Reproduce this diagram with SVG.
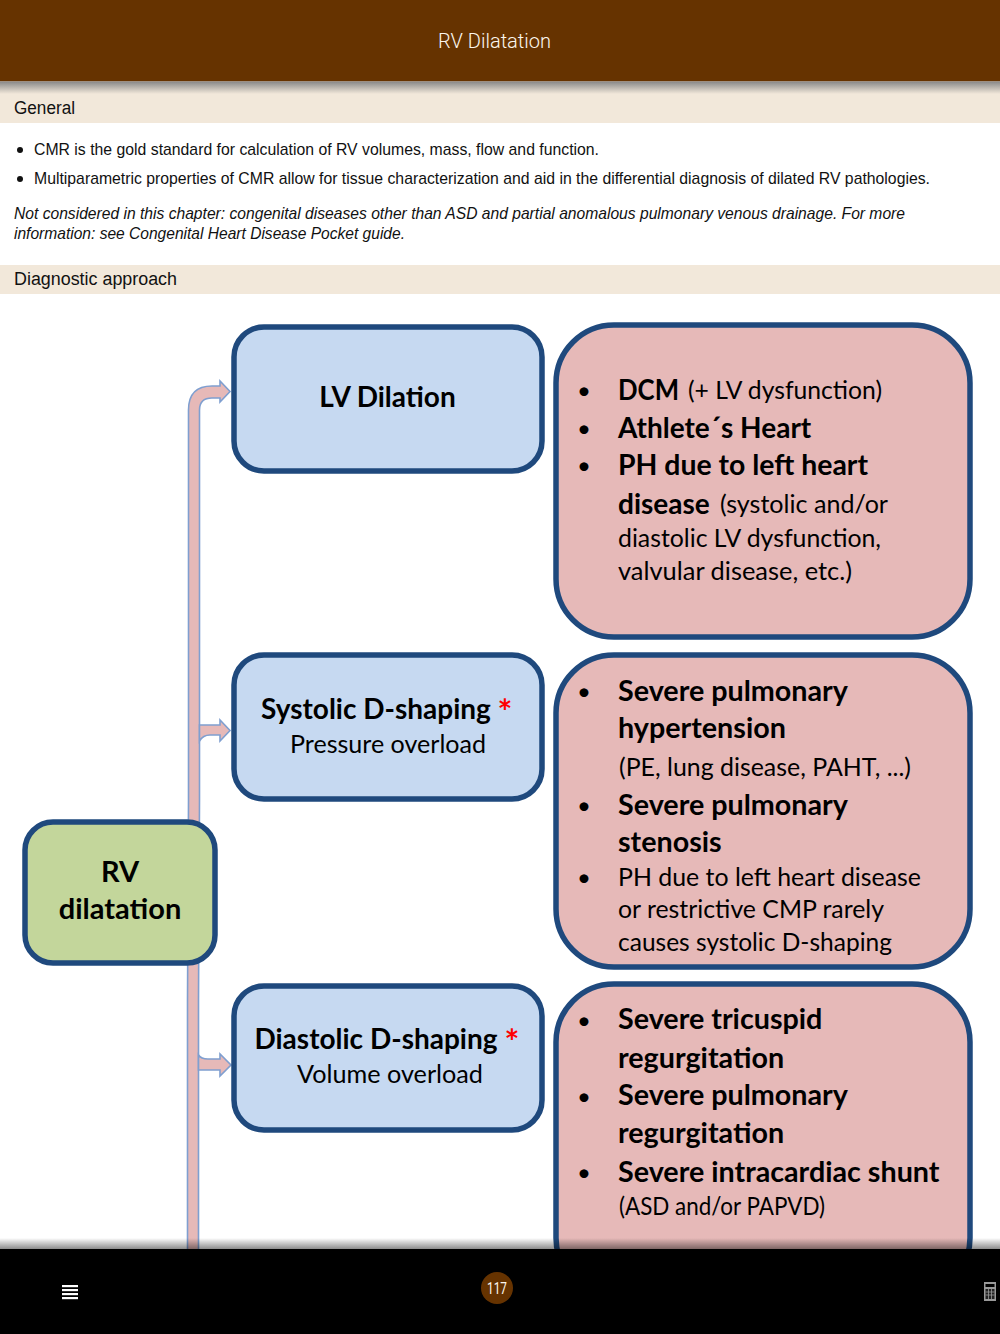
<svg xmlns="http://www.w3.org/2000/svg" width="1000" height="1334" viewBox="0 0 1000 1334">
<style>
.h{font-family:"Liberation Sans",Arial,sans-serif;font-size:17px;fill:#111}
.l{font-size:18px}
.i{font-style:italic;font-size:16.5px}
.d{font-family:Lato,"Noto Sans",sans-serif;font-size:25px;fill:#000}
.b{font-weight:700;font-size:28px}
.c{font-size:28.700px}
.dot{font-size:24px}
.star{font-family:Lato,sans-serif;font-size:35px;font-weight:700;fill:#f00}
.blue{fill:#c6d9f1;stroke:#1f497d;stroke-width:5.500}
.red{fill:#e6b9b8;stroke:#1f497d;stroke-width:5.500}
.green{fill:#c3d69b;stroke:#1f497d;stroke-width:5.500}
.arrow{fill:#e6b9b8;stroke:#7f9fd0;stroke-width:1.600}
</style>
<defs>
<linearGradient id="s1" x1="0" y1="0" x2="0" y2="1"><stop offset="0" stop-color="#888"/><stop offset="1" stop-color="#f2e8da"/></linearGradient>
<linearGradient id="s2" x1="0" y1="0" x2="0" y2="1"><stop offset="0" stop-color="#000" stop-opacity="0"/><stop offset="1" stop-color="#000" stop-opacity=".45"/></linearGradient>
</defs>
<rect width="1000" height="1334" fill="#fff"/>
<g id="connectors">
<path class="arrow" d="M187.500 1250V1000L188.500 800V410Q188.500 386 212 386H220V381L230 391.500L220 402V398H212Q199.500 398 199.500 410V800L198.500 1000V1250Z"/>
<path class="arrow" d="M199.500 725H220V720L230 730.500L220 741V735H210Q203 735 199.500 741Z"/>
<path class="arrow" d="M198.500 1055Q201 1059 208 1059H220V1054L231 1065L220 1076V1070H198.500Z"/>
</g>
<g id="node-lv"><rect class="blue" x="234" y="327" width="308" height="144" rx="30"/>
<text class="d b" x="387.500" y="407" text-anchor="middle">LV Dilation</text></g>
<g id="node-systolic"><rect class="blue" x="234" y="655" width="308" height="144" rx="30"/>
<text class="d b" x="376" y="719" text-anchor="middle">Systolic D-shaping</text><text class="star" x="505" y="724" text-anchor="middle">*</text>
<text class="d" x="290" y="753" textLength="196" lengthAdjust="spacingAndGlyphs">Pressure overload</text></g>
<g id="node-diastolic"><rect class="blue" x="234" y="986" width="308" height="144" rx="30"/>
<text class="d b" x="376" y="1049" text-anchor="middle">Diastolic D-shaping</text><text class="star" x="512" y="1054" text-anchor="middle">*</text>
<text class="d" x="297" y="1083" textLength="186" lengthAdjust="spacingAndGlyphs">Volume overload</text></g>
<g id="node-rv"><rect class="green" x="25" y="822" width="190" height="141" rx="28"/>
<text class="d b" x="120" y="882" text-anchor="middle" style="font-size:29px">RV</text><text class="d b" x="120" y="919" text-anchor="middle" style="font-size:29px">dilatation</text></g>
<g id="node-causes-1"><rect class="red" x="556" y="325" width="414" height="312" rx="58"/>
<g class="d dot"><text x="577" y="399">•</text><text x="577" y="437">•</text><text x="577" y="474">•</text></g>
<text class="d b" x="618" y="400" textLength="61" lengthAdjust="spacingAndGlyphs">DCM</text>
<text class="d" x="688" y="399" textLength="194" lengthAdjust="spacingAndGlyphs">(+ LV dysfunction)</text>
<text class="d b" x="618" y="438">Athlete´s Heart</text>
<text class="d b c" x="618" y="475" textLength="250" lengthAdjust="spacingAndGlyphs">PH due to left heart</text>
<text class="d b" x="618" y="514">disease</text>
<text class="d" x="720" y="513" textLength="168" lengthAdjust="spacingAndGlyphs">(systolic and/or</text>
<text class="d" x="618" y="547" textLength="263" lengthAdjust="spacingAndGlyphs">diastolic LV dysfunction,</text>
<text class="d" x="618" y="580" textLength="234" lengthAdjust="spacingAndGlyphs">valvular disease, etc.)</text></g>
<g id="node-causes-2"><rect class="red" x="556" y="655" width="414" height="312" rx="58"/>
<g class="d dot"><text x="577" y="700">•</text><text x="577" y="814">•</text><text x="577" y="886">•</text></g>
<text class="d b c" x="618" y="701">Severe pulmonary</text>
<text class="d b c" x="618" y="738">hypertension</text>
<text class="d" x="619" y="776" textLength="292" lengthAdjust="spacingAndGlyphs">(PE, lung disease, PAHT, ...)</text>
<text class="d b c" x="618" y="815">Severe pulmonary</text>
<text class="d b c" x="618" y="852">stenosis</text>
<text class="d" x="618" y="886" textLength="303" lengthAdjust="spacingAndGlyphs">PH due to left heart disease</text>
<text class="d" x="618" y="918" textLength="266" lengthAdjust="spacingAndGlyphs">or restrictive CMP rarely</text>
<text class="d" x="618" y="951" textLength="274" lengthAdjust="spacingAndGlyphs">causes systolic D-shaping</text></g>
<g id="node-causes-3"><rect class="red" x="556" y="984" width="414" height="312" rx="58"/>
<g class="d dot"><text x="577" y="1029">•</text><text x="577" y="1105">•</text><text x="577" y="1181">•</text></g>
<text class="d b c" x="618" y="1029">Severe tricuspid</text>
<text class="d b c" x="618" y="1068">regurgitation</text>
<text class="d b c" x="618" y="1105">Severe pulmonary</text>
<text class="d b c" x="618" y="1143">regurgitation</text>
<text class="d b c" x="618" y="1182">Severe intracardiac shunt</text>
<text class="d" x="619" y="1215" textLength="206" lengthAdjust="spacingAndGlyphs">(ASD and/or PAPVD)</text></g>
<rect x="0" y="1238" width="1000" height="11" fill="url(#s2)"/>
<rect x="0" y="1249" width="1000" height="85" fill="#000"/>
<rect width="1000" height="81.500" fill="#663300"/>
<rect y="81.500" width="1000" height="12.500" fill="url(#s1)"/>
<rect y="94" width="1000" height="29" fill="#f2e8da"/>
<rect y="265" width="1000" height="29" fill="#f2e8da"/>
<text x="438" y="48" font-family="Roboto,Liberation Sans,sans-serif" font-weight="300" font-size="21" fill="#fbf6ee" textLength="113" lengthAdjust="spacingAndGlyphs">RV Dilatation</text>
<text class="h l" x="14" y="114" textLength="61" lengthAdjust="spacingAndGlyphs">General</text>
<text class="h l" x="14" y="285" textLength="163" lengthAdjust="spacingAndGlyphs">Diagnostic approach</text>
<circle cx="20" cy="150" r="3" fill="#111"/><circle cx="20" cy="179" r="3" fill="#111"/>
<text class="h" x="34" y="155" textLength="565" lengthAdjust="spacingAndGlyphs">CMR is the gold standard for calculation of RV volumes, mass, flow and function.</text>
<text class="h" x="34" y="184" textLength="896" lengthAdjust="spacingAndGlyphs">Multiparametric properties of CMR allow for tissue characterization and aid in the differential diagnosis of dilated RV pathologies.</text>
<text class="h i" x="14" y="219" textLength="891" lengthAdjust="spacingAndGlyphs">Not considered in this chapter: congenital diseases other than ASD and partial anomalous pulmonary venous drainage. For more</text>
<text class="h i" x="14" y="239" textLength="391" lengthAdjust="spacingAndGlyphs">information: see Congenital Heart Disease Pocket guide.</text>
<g id="menu" fill="#fff"><rect x="62" y="1285" width="16" height="2.200"/><rect x="62" y="1289" width="16" height="2.200"/><rect x="62" y="1293" width="16" height="2.200"/><rect x="62" y="1297" width="16" height="2.200"/></g>
<circle cx="497" cy="1288" r="16" fill="#663300"/>
<text x="487" y="1294" font-family="Roboto,Liberation Sans,sans-serif" font-size="16" fill="#fbf6ee" textLength="20" lengthAdjust="spacingAndGlyphs">117</text>
<g id="calc"><rect x="984" y="1282" width="12" height="19" fill="#999"/><rect x="985.500" y="1284" width="9" height="3" fill="#000"/><path d="M985.500 1289h9v10h-9z" fill="#222"/><path d="M988.500 1289v10M991.500 1289v10M985.500 1292h9M985.500 1295h9" stroke="#999" stroke-width=".8"/></g>
</svg>
